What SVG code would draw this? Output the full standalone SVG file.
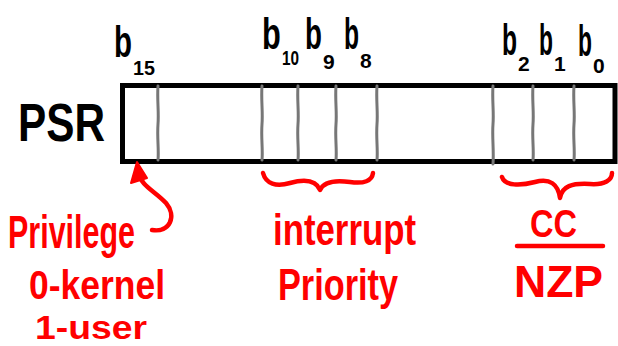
<svg xmlns="http://www.w3.org/2000/svg" width="618" height="346" viewBox="0 0 618 346">
<style>
.blk{font-family:"Liberation Sans",Arial,sans-serif;fill:#000;font-weight:bold;}
.red{font-family:"Liberation Sans",Arial,sans-serif;fill:#ff0000;font-weight:bold;}
.div{fill:none;stroke:#777;stroke-width:3;stroke-linecap:round;}
.rl{fill:none;stroke:#ff0000;stroke-width:4.5;stroke-linecap:round;stroke-linejoin:round;}
.bb{font-size:44px;}
.sub{font-size:21px;}
</style>
<rect width="618" height="346" fill="#fff"/>
<g id="psr-label"><text class="blk" x="18" y="141" font-size="54" textLength="87" lengthAdjust="spacingAndGlyphs">PSR</text></g>
<g id="register">
<rect x="122.5" y="85.5" width="492.5" height="76" fill="#fff" stroke="#000" stroke-width="5"/>
<path class="div" d="M158,86 C157,100 159,112 158,124 C157,138 159,150 158,160"/>
<path class="div" d="M262,86 C261,100 263,112 262,124 C261,138 263,150 262,160"/>
<path class="div" d="M298,86 C297,100 299,112 298,124 C297,138 299,150 298,160"/>
<path class="div" d="M336,86 C335,100 337,112 336,124 C335,138 337,150 336,160"/>
<path class="div" d="M377,86 C376,100 378,112 377,124 C376,138 378,150 377,160"/>
<path class="div" d="M493,86 C492,100 494,112 493,124 C492,138 494,150 493,164"/>
<path class="div" d="M533,86 C532,100 534,112 533,124 C532,138 534,150 533,160"/>
<path class="div" d="M574,86 C573,100 575,112 574,124 C573,138 575,150 574,160"/>
</g>
<g id="bit-labels" class="blk">
<text class="bb" transform="translate(114,57) scale(0.67,1)">b</text>
<text class="sub" transform="translate(133,75) scale(0.94,1)">15</text>
<text class="bb" transform="translate(262,49) scale(0.7,1)">b</text>
<text class="sub" transform="translate(282,65) scale(0.73,1)">10</text>
<text class="bb" transform="translate(305,49) scale(0.63,1)">b</text>
<text class="sub" x="323" y="69">9</text>
<text class="bb" transform="translate(344,49) scale(0.56,1)">b</text>
<text class="sub" x="360" y="68">8</text>
<text class="bb" transform="translate(502,55) scale(0.56,1)">b</text>
<text class="sub" x="518" y="71">2</text>
<text class="bb" transform="translate(539,55) scale(0.52,1)">b</text>
<text class="sub" x="554" y="71">1</text>
<text class="bb" transform="translate(578,56) scale(0.52,1)">b</text>
<text class="sub" x="593" y="73">0</text>
</g>
<g id="connectors">
<path class="rl" d="M152,230 C170,233 177,216 166,203 C155,191 141,186 138,172"/>
<path d="M137,162 L131,183 L147,178 Z" fill="#ff0000" stroke="#ff0000" stroke-width="2" stroke-linejoin="round"/>
<path class="rl" d="M263,173 C266,184 276,187 290,183 C305,179 316,180 320,190 C324,181 336,180 350,182 C364,184 372,181 373,173"/>
<path class="rl" d="M502,177 C505,186 520,186 535,182 C550,178 558,184 560,198 C562,186 572,183 590,184 C605,185 612,180 612,173"/>
</g>
<g id="privilege" class="red">
<text x="8" y="248" font-size="46" textLength="127" lengthAdjust="spacingAndGlyphs">Privilege</text>
<text x="29" y="299" font-size="41" textLength="136" lengthAdjust="spacingAndGlyphs">0-kernel</text>
<text x="35" y="339" font-size="34" textLength="112" lengthAdjust="spacingAndGlyphs">1-user</text>
</g>
<g id="interrupt-priority" class="red">
<text x="273" y="245" font-size="44" textLength="143" lengthAdjust="spacingAndGlyphs">interrupt</text>
<text x="278" y="300" font-size="44" textLength="120" lengthAdjust="spacingAndGlyphs">Priority</text>
</g>
<g id="cc" class="red">
<text x="530" y="237" font-size="38" textLength="47" lengthAdjust="spacingAndGlyphs">CC</text>
<line class="rl" x1="517" y1="246" x2="603" y2="246" stroke-width="5"/>
<text x="514" y="297" font-size="44" textLength="89" lengthAdjust="spacingAndGlyphs">NZP</text>
</g>
</svg>
